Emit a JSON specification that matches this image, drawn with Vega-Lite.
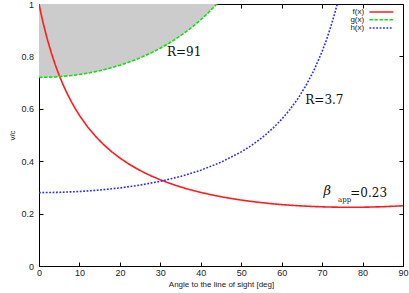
{
  "$schema": "https://vega.github.io/schema/vega-lite/v6.json",
  "width": 364,
  "height": 262,
  "autosize": "none",
  "padding": {"left": 39, "top": 4, "right": 6, "bottom": 27},
  "background": "white",
  "config": {
    "view": {"stroke": "#000000", "strokeWidth": 1},
    "axis": {"grid": false, "domain": false, "labelFont": "Liberation Sans", "labelFontSize": 9, "labelColor": "#222222", "titleFont": "Liberation Sans", "titleFontSize": 8, "titleFontWeight": "normal", "titleColor": "#222222", "tickColor": "#000000", "tickSize": -4, "tickWidth": 1, "labelOverlap": false, "labelBound": false, "labelFlush": false}
  },
  "datasets": {
    "curves": [
      {"x": 0, "y": 1.0, "s": "f(x)"},
      {"x": 0.5, "y": 0.9635, "s": "f(x)"},
      {"x": 1, "y": 0.9296, "s": "f(x)"},
      {"x": 2, "y": 0.8687, "s": "f(x)"},
      {"x": 3, "y": 0.8155, "s": "f(x)"},
      {"x": 4, "y": 0.7687, "s": "f(x)"},
      {"x": 5, "y": 0.7272, "s": "f(x)"},
      {"x": 6, "y": 0.6901, "s": "f(x)"},
      {"x": 7, "y": 0.6569, "s": "f(x)"},
      {"x": 8, "y": 0.6268, "s": "f(x)"},
      {"x": 9, "y": 0.5996, "s": "f(x)"},
      {"x": 10, "y": 0.5748, "s": "f(x)"},
      {"x": 12, "y": 0.5313, "s": "f(x)"},
      {"x": 14, "y": 0.4945, "s": "f(x)"},
      {"x": 16, "y": 0.4630, "s": "f(x)"},
      {"x": 18, "y": 0.4358, "s": "f(x)"},
      {"x": 20, "y": 0.4121, "s": "f(x)"},
      {"x": 22, "y": 0.3913, "s": "f(x)"},
      {"x": 24, "y": 0.3729, "s": "f(x)"},
      {"x": 26, "y": 0.3565, "s": "f(x)"},
      {"x": 28, "y": 0.3420, "s": "f(x)"},
      {"x": 30, "y": 0.3290, "s": "f(x)"},
      {"x": 32, "y": 0.3173, "s": "f(x)"},
      {"x": 34, "y": 0.3067, "s": "f(x)"},
      {"x": 36, "y": 0.2972, "s": "f(x)"},
      {"x": 38, "y": 0.2886, "s": "f(x)"},
      {"x": 40, "y": 0.2808, "s": "f(x)"},
      {"x": 42, "y": 0.2738, "s": "f(x)"},
      {"x": 44, "y": 0.2674, "s": "f(x)"},
      {"x": 46, "y": 0.2616, "s": "f(x)"},
      {"x": 48, "y": 0.2564, "s": "f(x)"},
      {"x": 50, "y": 0.2517, "s": "f(x)"},
      {"x": 52, "y": 0.2474, "s": "f(x)"},
      {"x": 54, "y": 0.2436, "s": "f(x)"},
      {"x": 56, "y": 0.2402, "s": "f(x)"},
      {"x": 58, "y": 0.2371, "s": "f(x)"},
      {"x": 60, "y": 0.2344, "s": "f(x)"},
      {"x": 62, "y": 0.2321, "s": "f(x)"},
      {"x": 64, "y": 0.2301, "s": "f(x)"},
      {"x": 66, "y": 0.2284, "s": "f(x)"},
      {"x": 68, "y": 0.2270, "s": "f(x)"},
      {"x": 70, "y": 0.2259, "s": "f(x)"},
      {"x": 72, "y": 0.2250, "s": "f(x)"},
      {"x": 74, "y": 0.2245, "s": "f(x)"},
      {"x": 76, "y": 0.2242, "s": "f(x)"},
      {"x": 78, "y": 0.2242, "s": "f(x)"},
      {"x": 80, "y": 0.2244, "s": "f(x)"},
      {"x": 82, "y": 0.2250, "s": "f(x)"},
      {"x": 84, "y": 0.2258, "s": "f(x)"},
      {"x": 86, "y": 0.2269, "s": "f(x)"},
      {"x": 88, "y": 0.2283, "s": "f(x)"},
      {"x": 90, "y": 0.2300, "s": "f(x)"},
      {"x": 0, "y": 0.7200, "s": "g(x)"},
      {"x": 2, "y": 0.7204, "s": "g(x)"},
      {"x": 4, "y": 0.7218, "s": "g(x)"},
      {"x": 6, "y": 0.7240, "s": "g(x)"},
      {"x": 8, "y": 0.7271, "s": "g(x)"},
      {"x": 10, "y": 0.7311, "s": "g(x)"},
      {"x": 12, "y": 0.7361, "s": "g(x)"},
      {"x": 14, "y": 0.7420, "s": "g(x)"},
      {"x": 16, "y": 0.7490, "s": "g(x)"},
      {"x": 18, "y": 0.7571, "s": "g(x)"},
      {"x": 20, "y": 0.7662, "s": "g(x)"},
      {"x": 22, "y": 0.7765, "s": "g(x)"},
      {"x": 24, "y": 0.7881, "s": "g(x)"},
      {"x": 26, "y": 0.8011, "s": "g(x)"},
      {"x": 28, "y": 0.8154, "s": "g(x)"},
      {"x": 30, "y": 0.8314, "s": "g(x)"},
      {"x": 32, "y": 0.8490, "s": "g(x)"},
      {"x": 34, "y": 0.8685, "s": "g(x)"},
      {"x": 36, "y": 0.8900, "s": "g(x)"},
      {"x": 38, "y": 0.9137, "s": "g(x)"},
      {"x": 40, "y": 0.9399, "s": "g(x)"},
      {"x": 42, "y": 0.9689, "s": "g(x)"},
      {"x": 43, "y": 0.9845, "s": "g(x)"},
      {"x": 43.95, "y": 1.0, "s": "g(x)"},
      {"x": 0, "y": 0.2800, "s": "h(x)"},
      {"x": 5, "y": 0.2811, "s": "h(x)"},
      {"x": 10, "y": 0.2843, "s": "h(x)"},
      {"x": 15, "y": 0.2899, "s": "h(x)"},
      {"x": 20, "y": 0.2980, "s": "h(x)"},
      {"x": 25, "y": 0.3089, "s": "h(x)"},
      {"x": 30, "y": 0.3233, "s": "h(x)"},
      {"x": 35, "y": 0.3418, "s": "h(x)"},
      {"x": 40, "y": 0.3655, "s": "h(x)"},
      {"x": 45, "y": 0.3960, "s": "h(x)"},
      {"x": 50, "y": 0.4356, "s": "h(x)"},
      {"x": 52, "y": 0.4548, "s": "h(x)"},
      {"x": 54, "y": 0.4764, "s": "h(x)"},
      {"x": 56, "y": 0.5007, "s": "h(x)"},
      {"x": 58, "y": 0.5284, "s": "h(x)"},
      {"x": 60, "y": 0.5600, "s": "h(x)"},
      {"x": 62, "y": 0.5964, "s": "h(x)"},
      {"x": 64, "y": 0.6387, "s": "h(x)"},
      {"x": 66, "y": 0.6884, "s": "h(x)"},
      {"x": 68, "y": 0.7475, "s": "h(x)"},
      {"x": 70, "y": 0.8187, "s": "h(x)"},
      {"x": 71, "y": 0.8600, "s": "h(x)"},
      {"x": 72, "y": 0.9061, "s": "h(x)"},
      {"x": 73, "y": 0.9577, "s": "h(x)"},
      {"x": 73.74, "y": 1.0, "s": "h(x)"}
    ],
    "keys": [
      {"s": "f(x)", "row": 0.9695},
      {"s": "g(x)", "row": 0.9400},
      {"s": "h(x)", "row": 0.9085}
    ]
  },
  "resolve": {"axis": {"x": "independent", "y": "independent"}},
  "layer": [
    {
      "data": {"name": "curves"},
      "transform": [{"filter": "datum.s == 'g(x)'"}],
      "mark": {"type": "area", "color": "#cccccc", "clip": true},
      "encoding": {
        "x": {"field": "x", "type": "quantitative", "scale": {"domain": [0, 90], "nice": false},
              "axis": {"orient": "bottom", "values": [0, 10, 20, 30, 40, 50, 60, 70, 80, 90], "title": "Angle to the line of sight [deg]", "labelPadding": 6.5, "titlePadding": 3}},
        "y": {"field": "y", "type": "quantitative", "scale": {"domain": [0, 1], "nice": false},
              "axis": {"orient": "left", "values": [0, 0.2, 0.4, 0.6, 0.8, 1], "format": ".1~f", "title": "v/c", "labelPadding": 9.5, "titlePadding": 4}},
        "y2": {"datum": 1}
      }
    },
    {
      "data": {"name": "curves"},
      "mark": {"type": "line", "strokeWidth": 1.6, "clip": true},
      "encoding": {
        "x": {"field": "x", "type": "quantitative", "axis": {"orient": "top", "values": [0, 10, 20, 30, 40, 50, 60, 70, 80, 90], "labels": false, "title": null}},
        "y": {"field": "y", "type": "quantitative", "axis": {"orient": "right", "values": [0, 0.2, 0.4, 0.6, 0.8, 1], "labels": false, "title": null}},
        "detail": {"field": "s"},
        "color": {"field": "s", "type": "nominal", "scale": {"domain": ["f(x)", "g(x)", "h(x)"], "range": ["#ff1c1c", "#10e010", "#2b2bff"]}, "legend": null},
        "strokeDash": {"field": "s", "type": "nominal", "scale": {"domain": ["f(x)", "g(x)", "h(x)"], "range": [[1, 0], [3.5, 1.5], [1.8, 1.6]]}, "legend": null}
      }
    },
    {
      "data": {"name": "keys"},
      "mark": {"type": "rule", "strokeWidth": 1.6},
      "encoding": {
        "x": {"datum": 81.7, "axis": null},
        "x2": {"datum": 87.6},
        "y": {"field": "row", "type": "quantitative", "axis": null},
        "color": {"field": "s", "type": "nominal", "legend": null},
        "strokeDash": {"field": "s", "type": "nominal", "legend": null}
      }
    },
    {
      "data": {"name": "keys"},
      "mark": {"type": "text", "align": "right", "baseline": "middle", "font": "Liberation Sans", "fontSize": 8, "color": "#222222"},
      "encoding": {
        "x": {"datum": 80.4, "axis": null},
        "y": {"field": "row", "type": "quantitative", "axis": null},
        "text": {"field": "s"}
      }
    },
    {
      "data": {"values": [{"label": "R=91"}]},
      "mark": {"type": "text", "align": "left", "baseline": "middle", "font": "DejaVu Serif", "fontSize": 12, "color": "#111111"},
      "encoding": {"x": {"datum": 31.65, "axis": null}, "y": {"datum": 0.8155, "axis": null}, "text": {"field": "label"}}
    },
    {
      "data": {"values": [{"label": "R=3.7"}]},
      "mark": {"type": "text", "align": "left", "baseline": "middle", "font": "DejaVu Serif", "fontSize": 12, "color": "#111111"},
      "encoding": {"x": {"datum": 65.85, "axis": null}, "y": {"datum": 0.6353, "axis": null}, "text": {"field": "label"}}
    },
    {
      "data": {"values": [{"label": "β"}]},
      "mark": {"type": "text", "align": "left", "baseline": "middle", "font": "DejaVu Serif", "fontStyle": "italic", "fontSize": 13, "color": "#111111"},
      "encoding": {"x": {"datum": 70.37, "axis": null}, "y": {"datum": 0.2847, "axis": null}, "text": {"field": "label"}}
    },
    {
      "data": {"values": [{"label": "app"}]},
      "mark": {"type": "text", "align": "left", "baseline": "middle", "font": "DejaVu Serif", "fontSize": 7, "color": "#111111"},
      "encoding": {"x": {"datum": 73.93, "axis": null}, "y": {"datum": 0.2504, "axis": null}, "text": {"field": "label"}}
    },
    {
      "data": {"values": [{"label": "=0.23"}]},
      "mark": {"type": "text", "align": "left", "baseline": "middle", "font": "DejaVu Serif", "fontSize": 12, "color": "#111111"},
      "encoding": {"x": {"datum": 76.97, "axis": null}, "y": {"datum": 0.277, "axis": null}, "text": {"field": "label"}}
    }
  ]
}
